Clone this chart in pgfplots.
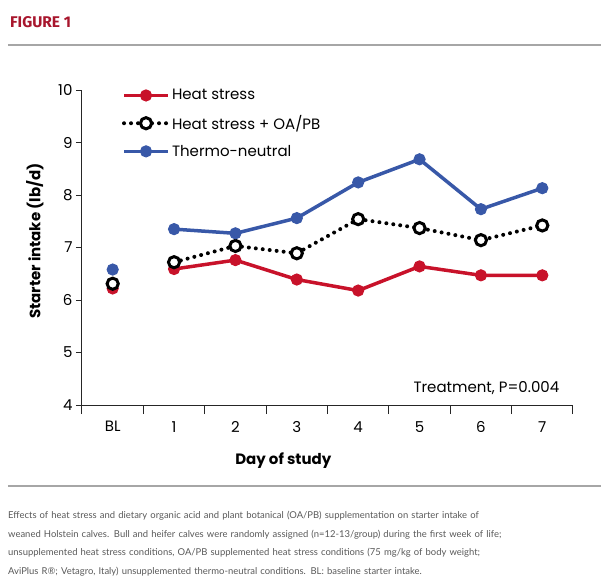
\documentclass[border=0pt]{standalone}
\usepackage{pgfplots}
\pgfplotsset{compat=1.18}
\usetikzlibrary{calc}
\usepackage{fontspec}
\setmainfont{Poppins}
\newfontfamily\capfont{Lato}
\newfontfamily\titlefont{Fira Sans}
\definecolor{hsred}{RGB}{200,18,42}
\definecolor{tnblue}{RGB}{56,88,168}
\definecolor{figred}{RGB}{168,22,45}
\begin{document}
\begin{tikzpicture}[x=1pt,y=1pt]
\begin{axis}[scale only axis, width=491pt, height=315pt,
  xmin=-0.5, xmax=7.5, ymin=4, ymax=10,
  axis lines*=left,
  axis line style={line width=1pt, black!85},
  xtick={0,...,7}, xticklabels={BL,1,2,3,4,5,6,7},
  major x tick style={draw=none},
  minor xtick={-0.5,0.5,...,7.5},
  ytick={4,...,10},
  tick align=outside,
  major tick length=6pt, minor tick length=9pt,
  tick style={black!85, line width=1pt},
  ticklabel style={font=\fontsize{15}{17}\selectfont},
  /pgf/number format/assume math mode=true,
  xticklabel style={yshift=-7pt},
  ylabel={\bfseries Starter intake (lb/d)},
  xlabel={\bfseries Day of study},
  label style={font=\fontsize{15}{17}\selectfont},
  y label style={at={(axis description cs:-0.096,0.52)}, anchor=center},
  x label style={at={(axis description cs:0.41,-0.175)}, anchor=center},
  unbounded coords=jump,
  legend style={at={(axis description cs:0.075,1.015)}, anchor=north west, draw=none, fill=none,
    font=\fontsize{15}{17}\selectfont, row sep=10pt, cells={anchor=west}},
  legend image code/.code={\draw[mark repeat=2,mark phase=2,#1] plot coordinates {(0pt,0pt) (22pt,0pt) (44pt,0pt)};},
]
\addplot[hsred, line width=3.5pt, mark=*, mark size=5.6pt, mark options={solid, line width=1pt}]
coordinates {(0,6.22) (0.5,nan) (1,6.59) (2,6.76) (3,6.39) (4,6.18) (5,6.64) (6,6.47) (7,6.47)};
\addlegendentry{Heat stress}
\addplot[black, line width=4pt, line cap=round, dash pattern=on 0pt off 7pt, mark=*, mark size=5.6pt,
  mark options={solid, fill=white, draw=black, line width=3pt}]
coordinates {(0,6.31) (0.5,nan) (1,6.72) (2,7.03) (3,6.89) (4,7.54) (5,7.37) (6,7.14) (7,7.42)};
\addlegendentry{Heat stress + OA/PB}
\addplot[tnblue, line width=3.5pt, mark=*, mark size=5.6pt, mark options={solid, line width=1pt}]
coordinates {(0,6.58) (0.5,nan) (1,7.35) (2,7.27) (3,7.56) (4,8.24) (5,8.68) (6,7.73) (7,8.13)};
\addlegendentry{Thermo-neutral}
\node[anchor=base east, inner sep=0, font=\fontsize{15}{17}\selectfont] at (axis cs:7.28,4.23) {Treatment, P=0.004};
\coordinate (O) at (axis cs:-0.5,4);
\end{axis}
\pgfresetboundingbox
\coordinate (B) at ($(O)+(-82,-182)$);
\path[use as bounding box] (B) rectangle ++(610,587);
\node[anchor=base west, font=\titlefont\bfseries\fontsize{15.5}{17}\selectfont, text=figred, inner sep=0] at ($(B)+(10,559)$) {FIGURE 1};
\draw[black!35, line width=1.2pt] ($(B)+(8,542)$) -- ($(B)+(601,542)$);
\draw[black!35, line width=1.2pt] ($(B)+(8,101)$) -- ($(B)+(601,101)$);
\node[anchor=north west, inner sep=0, text width=600pt, align=left, font=\capfont\fontsize{9.45}{18.5}\selectfont, text=black!65] at ($(B)+(8,76)$) {Effects of heat stress and dietary organic acid and plant botanical (OA/PB) supplementation on starter intake of\\
weaned Holstein calves. Bull and heifer calves were randomly assigned (n=12-13/group) during the first week of life;\\
unsupplemented heat stress conditions, OA/PB supplemented heat stress conditions (75 mg/kg of body weight;\\
AviPlus R®; Vetagro, Italy) unsupplemented thermo-neutral conditions. BL: baseline starter intake.};
\end{tikzpicture}
\end{document}
